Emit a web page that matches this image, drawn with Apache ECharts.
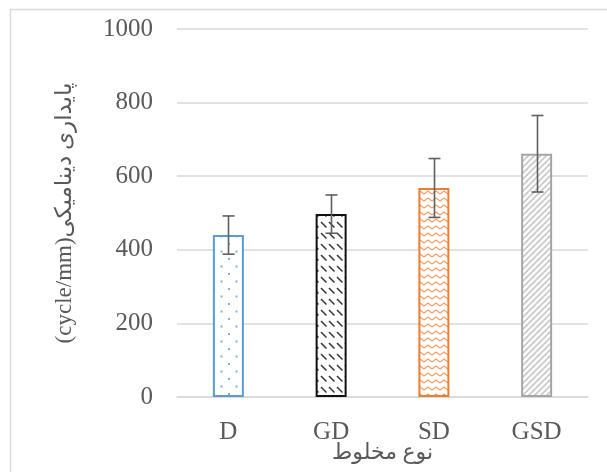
<!DOCTYPE html>
<html><head><meta charset="utf-8">
<script src="https://cdn.jsdelivr.net/npm/echarts@6/dist/echarts.min.js"></script>
<style>html,body{margin:0;padding:0;background:#fff}#c{width:607px;height:472px}</style>
</head><body><div id="c"></div>
<script>
const categories = ['D', 'GD', 'SD', 'GSD'];
const values = [440, 497, 568, 661];
const errors = [52, 52, 80, 104];
const yTicks = { min: 0, max: 1000, interval: 200 };
const yName = '(cycle/mm)پایداری دینامیکی';
const xName = 'نوع مخلوط';

function tile(w, h, draw) {
  const c = document.createElement('canvas');
  c.width = w; c.height = h;
  const g = c.getContext('2d');
  g.fillStyle = '#fff'; g.fillRect(0, 0, w, h);
  draw(g);
  return { image: c, repeat: 'repeat' };
}
const patDots = tile(15, 15, g => {
  g.fillStyle = '#80b2e3';
  g.fillRect(3, 3, 2, 2); g.fillRect(10.5, 10.5, 2, 2);
});
const patDash = tile(8, 11, g => {
  g.strokeStyle = '#333'; g.lineWidth = 1.5;
  g.beginPath(); g.moveTo(1, 2); g.lineTo(6.5, 7.5); g.stroke();
});
const patWave = tile(8, 7, g => {
  g.strokeStyle = '#f2a06a'; g.lineWidth = 1.4;
  g.beginPath(); g.moveTo(0, 5); g.lineTo(4, 2); g.lineTo(8, 5); g.stroke();
});
const patDiag = tile(6, 6, g => {
  g.strokeStyle = '#cacaca'; g.lineWidth = 1.8;
  g.beginPath(); g.moveTo(-1, 7); g.lineTo(7, -1); g.stroke();
  g.beginPath(); g.moveTo(-1, 1); g.lineTo(1, -1); g.stroke();
  g.beginPath(); g.moveTo(5, 7); g.lineTo(7, 5); g.stroke();
});
const fills = [patDots, patDash, patWave, patDiag];
const borders = ['#5b9bd5', '#111111', '#ed7d31', '#a5a5a5'];

const font = "'Liberation Serif','Times New Roman','DejaVu Sans',serif";
const chart = echarts.init(document.getElementById('c'), null, { renderer: 'canvas' });
chart.setOption({
  animation: false,
  backgroundColor: '#fff',
  graphic: [{
    type: 'rect', shape: { x: 10.5, y: 9.5, width: 700, height: 600 },
    style: { fill: 'none', stroke: '#d9d9d9', lineWidth: 1.5 }, z: -1
  }],
  grid: { left: 177, right: 19, top: 29, bottom: 75, containLabel: false, outerBoundsMode: 'none' },
  xAxis: {
    type: 'category', data: categories,
    axisTick: { show: false },
    axisLine: { lineStyle: { color: '#d9d9d9', width: 1.5 } },
    axisLabel: { color: '#595959', fontFamily: font, fontSize: 25, margin: 23 },
    name: xName, nameLocation: 'middle', nameGap: 45, nameMoveOverlap: false,
    nameTextStyle: { color: '#595959', fontFamily: font, fontSize: 22 }
  },
  yAxis: {
    type: 'value', min: yTicks.min, max: yTicks.max, interval: yTicks.interval,
    axisLine: { show: false }, axisTick: { show: false },
    splitLine: { lineStyle: { color: '#d9d9d9', width: 1.5 } },
    axisLabel: { color: '#595959', fontFamily: font, fontSize: 25, margin: 24,
      formatter: v => String(v) },
    name: yName, nameLocation: 'middle', nameGap: 101, nameMoveOverlap: false,
    nameTextStyle: { color: '#595959', fontFamily: font, fontSize: 23 }
  },
  series: [{
    type: 'bar', barWidth: 31,
    data: values.map((v, i) => ({
      value: v,
      itemStyle: { color: fills[i], borderColor: borders[i], borderWidth: 2 }
    }))
  }, {
    type: 'custom',
    data: values.map((v, i) => [i, v - errors[i], v + errors[i]]),
    renderItem: (params, api) => {
      const lo = api.coord([api.value(0), api.value(1)]);
      const hi = api.coord([api.value(0), api.value(2)]);
      const x = Math.round(lo[0]) + 0.5, hw = 6;
      const st = { stroke: '#5f5f5f', lineWidth: 1.6 };
      return { type: 'group', children: [
        { type: 'line', shape: { x1: x, y1: lo[1], x2: x, y2: hi[1] }, style: st },
        { type: 'line', shape: { x1: x - hw, y1: lo[1], x2: x + hw, y2: lo[1] }, style: st },
        { type: 'line', shape: { x1: x - hw, y1: hi[1], x2: x + hw, y2: hi[1] }, style: st }
      ]};
    },
    z: 10
  }]
});
</script></body></html>
